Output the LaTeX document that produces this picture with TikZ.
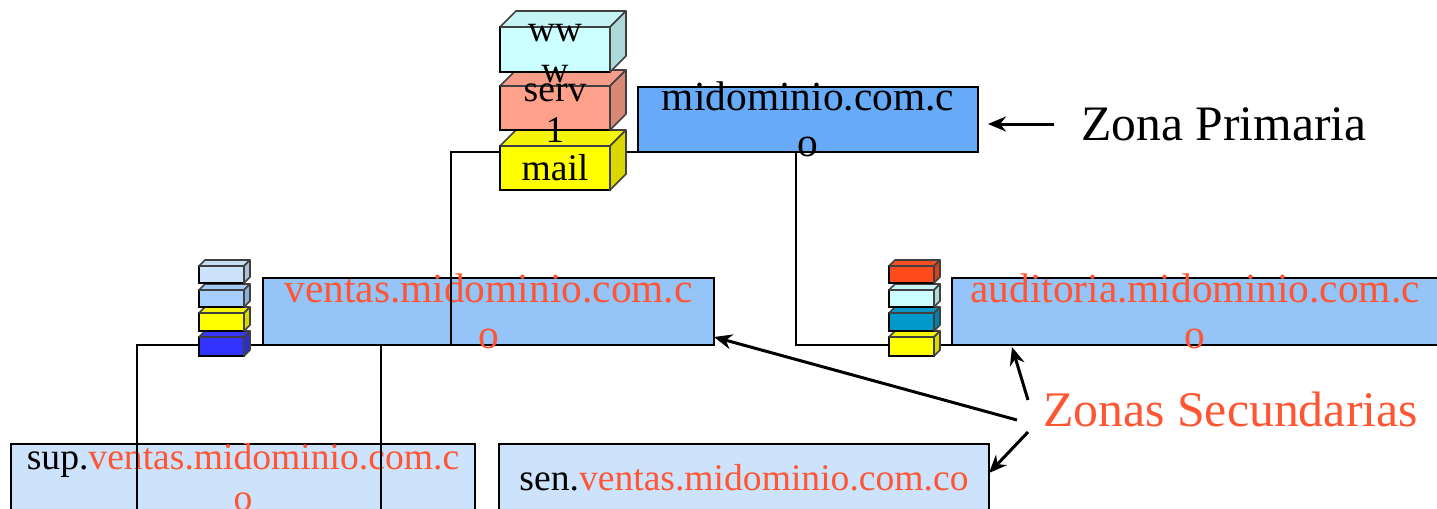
\documentclass[tikz,border=0pt]{standalone}
\usepackage{fontspec}
\setmainfont{Liberation Serif}
\usetikzlibrary{arrows.meta}

\definecolor{rojozona}{HTML}{FF5533}
\definecolor{azulprim}{HTML}{66AAF8}
\definecolor{azulsec}{HTML}{94C4F8}
\definecolor{azulter}{HTML}{CDE3FC}
\definecolor{salmon}{HTML}{FFA08A}
\definecolor{celeste}{HTML}{CCFFFF}
\definecolor{azulfuerte}{HTML}{3333FF}
\definecolor{azulclaro}{HTML}{A6CFFF}
\definecolor{azulmar}{HTML}{0099CC}
\definecolor{naranja}{HTML}{FF4A1C}
\definecolor{amarillo}{HTML}{FFFF00}

\tikzset{
    caja/.style={draw=black, line width=1.1pt, inner sep=0pt, outer sep=0pt},
    rotulo/.style={inner sep=0pt, align=center},
    textogrande/.style={font=\fontsize{20.7}{23}\selectfont},
    textochico/.style={font=\fontsize{18.8}{20.5}\selectfont},
    flecha/.style={-{Stealth[length=9pt, width=7.5pt]}, line width=1.5pt},
    linea/.style={line width=1.1pt}
}

% cubo: [bajada del texto], nombre, x, y, ancho, alto, fondo, color, texto
\newcommand{\cubo}[9][0pt]{
    \node[caja, fill=#8, anchor=north west, minimum width=#5*0.5pt, minimum height=#6*0.5pt] (#2) at (#3, #4) {};
    \fill[#8!92!gray, draw=black!75, line width=0.8pt, line join=round] (#2.north west) -- ++(#7, -#7) -- ++(#5, 0) -- ++(-#7, #7) -- cycle;
    \fill[#8!85!black, draw=black!75, line width=0.8pt, line join=round] (#2.north east) -- ++(#7, -#7) -- ++(0, #6) -- ++(-#7, #7) -- cycle;
    \node[rotulo, textochico, yshift=-#1] (#2texto) at (#2.center) {#9};
}

\begin{document}
\begin{tikzpicture}[x=0.5pt, y=-0.5pt]
    \useasboundingbox (0, 0) rectangle (1437, 509);
    \clip (0, 0) rectangle (1437, 509);

    % cajas de las zonas
    \node[caja, fill=azulprim, minimum width=170pt, minimum height=32.5pt] (midominio) at (808, 119.5) {};
    \node[caja, fill=azulsec, minimum width=225.5pt, minimum height=33.5pt] (ventas) at (488.5, 311.5) {};
    \node[caja, fill=azulsec, minimum width=243pt, minimum height=33.5pt] (auditoria) at (1195, 311.5) {};
    \node[caja, fill=azulter, minimum width=232pt, minimum height=33.5pt] (sup) at (243, 477.5) {};
    \node[caja, fill=azulter, minimum width=245pt, minimum height=33.5pt] (sen) at (744, 477.5) {};

    \node[rotulo, textogrande] (midominiotexto) at (midominio.center) {midominio.com.c\\o};
    \node[rotulo, textogrande, text=rojozona] (ventastexto) at (ventas.center) {ventas.midominio.com.c\\o};
    \node[rotulo, textogrande, text=rojozona] (auditoriatexto) at (auditoria.center) {auditoria.midominio.com.c\\o};
    \node[rotulo, textochico] (suptexto) at (sup.center) {sup.\textcolor{rojozona}{ventas.midominio.com.c}\\\textcolor{rojozona}{o}};
    \node[rotulo, textochico] (sentexto) at (sen.center) {sen.\textcolor{rojozona}{ventas.midominio.com.co}};

    % puntos de las lineas
    \coordinate (bajaventas) at (451, 345);
    \coordinate (saleaud) at (796, 152);
    \coordinate (bajaaud) at (796, 345);
    \coordinate (codosup) at (137, 345);
    \coordinate (finsup) at (137, 515);
    \coordinate (salesen) at (381, 345);
    \coordinate (finsen) at (381, 515);

    \draw[linea] (midominio.south west) -| (bajaventas);
    \draw[linea] (saleaud) -- (bajaaud) -- (auditoria.south west);
    \draw[linea] (ventas.south west) -- (codosup) -- (finsup);
    \draw[linea] (salesen) -- (finsen);

    % servidores
    \cubo{mail}{500}{146}{110}{44}{16}{amarillo}{mail}
    \cubo[2.5pt]{serv}{500}{86}{110}{44}{16}{salmon}{serv\\1}
    \cubo[2pt]{www}{500}{27}{110}{45}{16}{celeste}{ww\\w}

    \cubo{vcuatro}{199}{337}{45}{19}{6}{azulfuerte}{}
    \cubo{vtres}{199}{313}{45}{18}{6}{amarillo}{}
    \cubo{vdos}{199}{290}{45}{17}{6}{azulclaro}{}
    \cubo{vuno}{199}{266}{45}{17}{6}{azulter}{}

    \cubo{acuatro}{889}{337}{45}{19}{6}{amarillo}{}
    \cubo{atres}{889}{313}{45}{18}{6}{azulmar}{}
    \cubo{ados}{889}{290}{45}{17}{6}{celeste}{}
    \cubo{auno}{889}{266}{45}{17}{6}{naranja}{}

    % rotulos y flechas
    \node[font=\fontsize{24.8}{26}\selectfont, inner sep=0pt] (primaria) at (1224, 124) {Zona Primaria};
    \node[font=\fontsize{24.9}{26}\selectfont, text=rojozona, inner sep=0pt] (secundarias) at (1230.5, 409) {Zonas Secundarias};

    \coordinate (iniprim) at (1054, 124);
    \coordinate (finprim) at (988, 124);
    \coordinate (iniaud) at (1028, 400);
    \coordinate (finaud) at (1012, 347);
    \coordinate (iniven) at (1017, 420);
    \coordinate (finven) at (714, 337);
    \coordinate (inisen) at (1028, 432);
    \coordinate (finsenb) at (989, 473);

    \draw[flecha] (iniprim) to (finprim);
    \draw[flecha] (iniaud) to (finaud);
    \draw[flecha] (iniven) to (finven);
    \draw[flecha] (inisen) to (finsenb);
\end{tikzpicture}
\end{document}
